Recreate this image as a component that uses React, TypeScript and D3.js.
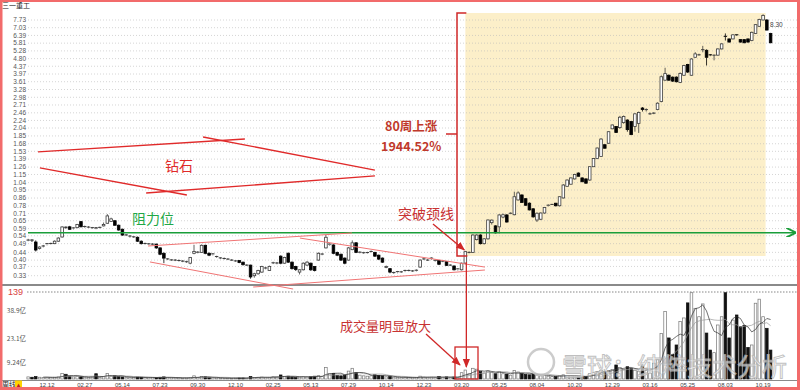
import * as d3 from 'd3';

// weekly candles: [open, close, high, low]
type Week = [number, number, number, number];

const priceTicks = [7.73, 7.03, 6.39, 5.81, 5.28, 4.8, 4.37, 3.97, 3.61, 3.28, 2.98, 2.71, 2.46, 2.24, 2.04, 1.85, 1.68, 1.53, 1.39, 1.26, 1.15, 1.04, 0.95, 0.86, 0.78, 0.71, 0.65, 0.59, 0.54, 0.49, 0.44, 0.4, 0.37, 0.33];
const volumeTicks = ['38.9', '23.1', '9.24'];
const dateLabels = ['12.12', '02.27', '05.14', '07.23', '09.30', '12.10', '02.25', '05.13', '07.29', '10.14', '12.23', '03.20', '05.25', '08.04', '10.20', '12.29', '03.16', '05.25', '08.03', '10.19'];

const base: Week[] = [
  [0.51, 0.512, 0.52, 0.505], [0.512, 0.508, 0.516, 0.5], [0.5, 0.453, 0.51, 0.445], [0.462, 0.47, 0.474, 0.456],
  [0.475, 0.476, 0.482, 0.468], [0.484, 0.49, 0.494, 0.48], [0.49, 0.491, 0.496, 0.485], [0.49, 0.505, 0.51, 0.487],
  [0.505, 0.525, 0.53, 0.5], [0.532, 0.602, 0.607, 0.528], [0.6, 0.594, 0.605, 0.588], [0.603, 0.585, 0.61, 0.58],
  [0.59, 0.595, 0.6, 0.584], [0.597, 0.62, 0.625, 0.592], [0.643, 0.603, 0.648, 0.6], [0.6, 0.605, 0.612, 0.595],
  [0.6, 0.601, 0.608, 0.594], [0.593, 0.597, 0.602, 0.588], [0.595, 0.59, 0.598, 0.586], [0.598, 0.599, 0.604, 0.592],
  [0.61, 0.62, 0.636, 0.606], [0.63, 0.69, 0.705, 0.625], [0.645, 0.665, 0.675, 0.64], [0.65, 0.615, 0.656, 0.61],
  [0.615, 0.58, 0.62, 0.575], [0.585, 0.545, 0.59, 0.54], [0.545, 0.546, 0.552, 0.538], [0.538, 0.538, 0.545, 0.528],
  [0.532, 0.533, 0.538, 0.526], [0.53, 0.505, 0.535, 0.5], [0.505, 0.49, 0.51, 0.485], [0.49, 0.491, 0.496, 0.485],
  [0.486, 0.489, 0.494, 0.482], [0.487, 0.487, 0.493, 0.481], [0.487, 0.465, 0.49, 0.46], [0.465, 0.43, 0.468, 0.425],
  [0.435, 0.41, 0.44, 0.385], [0.405, 0.406, 0.41, 0.4], [0.4, 0.401, 0.405, 0.396], [0.4, 0.4, 0.405, 0.395],
  [0.398, 0.398, 0.403, 0.393], [0.395, 0.395, 0.4, 0.39], [0.392, 0.392, 0.397, 0.387], [0.385, 0.413, 0.416, 0.38],
  [0.435, 0.445, 0.483, 0.43], [0.44, 0.441, 0.447, 0.435], [0.44, 0.48, 0.485, 0.437], [0.48, 0.435, 0.484, 0.43],
  [0.435, 0.425, 0.44, 0.42], [0.428, 0.432, 0.436, 0.424], [0.417, 0.418, 0.422, 0.412], [0.41, 0.411, 0.415, 0.405],
  [0.408, 0.408, 0.413, 0.403], [0.404, 0.405, 0.41, 0.4], [0.4, 0.4, 0.405, 0.396], [0.396, 0.396, 0.4, 0.392],
  [0.398, 0.388, 0.4, 0.385], [0.39, 0.378, 0.392, 0.374], [0.376, 0.376, 0.38, 0.372],
];

const triangle: Week[] = [
  [0.376, 0.325, 0.378, 0.318], [0.33, 0.338, 0.342, 0.322], [0.338, 0.352, 0.355, 0.334], [0.345, 0.37, 0.373, 0.342],
  [0.362, 0.363, 0.368, 0.357], [0.352, 0.37, 0.374, 0.35], [0.386, 0.387, 0.392, 0.381], [0.386, 0.386, 0.391, 0.38],
  [0.42, 0.385, 0.424, 0.38], [0.385, 0.413, 0.417, 0.382], [0.435, 0.39, 0.44, 0.386], [0.39, 0.36, 0.393, 0.356],
  [0.37, 0.356, 0.373, 0.35], [0.345, 0.355, 0.358, 0.335], [0.355, 0.385, 0.389, 0.352], [0.376, 0.39, 0.395, 0.372],
  [0.385, 0.355, 0.388, 0.35], [0.37, 0.352, 0.372, 0.348], [0.4, 0.435, 0.44, 0.397], [0.43, 0.431, 0.436, 0.425],
  [0.465, 0.53, 0.545, 0.462], [0.482, 0.487, 0.492, 0.478], [0.482, 0.435, 0.486, 0.43], [0.44, 0.425, 0.444, 0.42],
  [0.43, 0.4, 0.433, 0.396], [0.41, 0.385, 0.413, 0.38], [0.4, 0.465, 0.47, 0.397], [0.455, 0.495, 0.51, 0.452],
  [0.495, 0.44, 0.5, 0.436], [0.44, 0.441, 0.446, 0.435], [0.438, 0.438, 0.443, 0.433], [0.438, 0.439, 0.443, 0.434],
  [0.445, 0.445, 0.45, 0.44], [0.44, 0.42, 0.443, 0.416], [0.425, 0.405, 0.428, 0.4], [0.41, 0.39, 0.413, 0.386],
  [0.365, 0.37, 0.374, 0.362], [0.36, 0.345, 0.362, 0.34], [0.342, 0.343, 0.347, 0.338], [0.343, 0.347, 0.35, 0.34],
  [0.346, 0.346, 0.35, 0.342], [0.348, 0.352, 0.355, 0.345], [0.352, 0.352, 0.356, 0.348], [0.35, 0.35, 0.354, 0.346],
  [0.352, 0.353, 0.357, 0.348], [0.367, 0.4, 0.404, 0.364], [0.405, 0.406, 0.41, 0.4], [0.4, 0.4, 0.405, 0.396],
  [0.406, 0.41, 0.414, 0.402], [0.396, 0.399, 0.403, 0.393], [0.398, 0.38, 0.4, 0.376], [0.395, 0.395, 0.4, 0.39],
  [0.392, 0.375, 0.395, 0.372], [0.376, 0.376, 0.38, 0.372], [0.372, 0.355, 0.374, 0.352], [0.355, 0.359, 0.362, 0.352],
  [0.355, 0.385, 0.388, 0.352],
];

const rally: Week[] = [
  [0.385, 0.444, 0.448, 0.38], [0.44, 0.44, 0.445, 0.435], [0.44, 0.545, 0.55, 0.437], [0.515, 0.545, 0.55, 0.51],
  [0.545, 0.49, 0.55, 0.485], [0.49, 0.52, 0.525, 0.485], [0.52, 0.656, 0.66, 0.515], [0.635, 0.655, 0.66, 0.62],
  [0.61, 0.56, 0.615, 0.555], [0.603, 0.698, 0.705, 0.556], [0.68, 0.7, 0.71, 0.67], [0.698, 0.64, 0.705, 0.635],
  [0.71, 0.713, 0.72, 0.705], [0.7, 0.874, 0.93, 0.695], [0.84, 0.916, 0.935, 0.835], [0.893, 0.815, 0.9, 0.81],
  [0.853, 0.787, 0.86, 0.78], [0.807, 0.743, 0.815, 0.738], [0.753, 0.682, 0.76, 0.675], [0.656, 0.713, 0.72, 0.64],
  [0.662, 0.715, 0.72, 0.655], [0.715, 0.765, 0.77, 0.71], [0.78, 0.787, 0.795, 0.775], [0.795, 0.795, 0.8, 0.79],
  [0.807, 0.782, 0.81, 0.775], [0.782, 0.874, 0.88, 0.775], [0.861, 1.01, 1.02, 0.855], [0.994, 1.074, 1.08, 0.99],
  [1.02, 1.102, 1.11, 1.015], [1.089, 1.151, 1.16, 1.08], [1.17, 1.125, 1.18, 1.12], [1.102, 1.052, 1.11, 1.045],
  [1.089, 1.033, 1.095, 1.025], [1.074, 1.266, 1.27, 1.065], [1.266, 1.4, 1.41, 1.26], [1.4, 1.594, 1.6, 1.39],
  [1.434, 1.78, 1.8, 1.43], [1.66, 1.59, 1.67, 1.58], [1.69, 1.949, 1.96, 1.68], [2.02, 2.118, 2.13, 2.01],
  [2.08, 1.93, 2.09, 1.92], [2.05, 2.33, 2.37, 2.02], [2.18, 2.35, 2.38, 2.15], [2.25, 2.0, 2.27, 1.95],
  [2.21, 1.88, 2.22, 1.87], [2.08, 2.43, 2.45, 1.95], [2.16, 2.47, 2.5, 1.92], [2.61, 2.56, 2.64, 2.5],
  [2.55, 2.56, 2.6, 2.5], [2.43, 2.43, 2.47, 2.4], [2.45, 2.45, 2.48, 2.42], [2.56, 2.77, 2.8, 2.54],
  [2.83, 3.84, 3.9, 2.8], [3.68, 3.99, 4.29, 3.65], [3.91, 3.68, 3.95, 3.65], [3.82, 3.64, 3.85, 3.6],
  [3.82, 3.61, 3.86, 3.58], [3.58, 4.0, 4.05, 3.55], [3.91, 4.41, 4.45, 3.88], [4.47, 4.07, 4.5, 4.02],
  [3.91, 4.78, 4.82, 3.88], [4.88, 5.09, 5.2, 4.85], [5.03, 5.03, 5.1, 4.98], [5.35, 5.36, 5.62, 5.19],
  [5.32, 4.88, 5.38, 4.41], [5.03, 5.0, 5.08, 4.95], [5.01, 5.01, 5.04, 4.7], [5.01, 5.41, 5.45, 4.98],
  [5.41, 5.76, 5.8, 5.38], [6.32, 6.28, 6.55, 6.0], [6.12, 5.89, 6.15, 5.85], [6.12, 6.44, 6.48, 6.1],
  [6.44, 6.39, 6.47, 6.35], [6.07, 5.89, 6.1, 5.85], [6.07, 5.84, 6.1, 5.8], [6.12, 5.89, 6.15, 5.85],
  [6.0, 6.64, 6.7, 5.95], [6.55, 7.3, 7.35, 6.5], [7.15, 7.78, 7.85, 7.1], [7.73, 8.17, 8.3, 7.7],
  [7.73, 6.83, 7.8, 6.8], [6.55, 5.84, 6.6, 5.8],
];

// weekly volume, 亿
const volume = [
  1.2, 1.0, 1.4, 1.0, 0.9, 1.0, 0.8, 1.0, 1.2, 3.2,
  2.7, 1.6, 1.2, 1.4, 1.3, 1.0, 0.9, 1.1, 3.0, 0.9,
  1.3, 3.2, 1.6, 1.8, 1.4, 1.2, 0.9, 0.8, 0.9, 1.1,
  1.0, 0.8, 0.7, 0.8, 0.9, 1.0, 1.2, 0.8, 0.7, 0.6,
  0.6, 0.5, 0.6, 0.9, 1.8, 0.9, 1.5, 1.2, 0.8, 0.7,
  0.6, 0.5, 0.5, 0.5, 0.4, 0.5, 0.6, 0.6, 0.5, 1.4,
  0.9, 1.0, 1.1, 0.8, 1.0, 1.3, 1.2, 2.3, 1.5, 1.6,
  1.2, 1.0, 1.1, 1.3, 1.2, 1.4, 1.6, 1.9, 1.5, 6.6,
  3.0, 3.2, 2.0, 1.8, 2.2, 4.5, 6.1, 3.6, 2.2, 1.8,
  1.6, 1.8, 2.4, 2.1, 1.8, 1.2, 1.4, 1.0, 0.9, 0.8,
  0.9, 0.8, 0.7, 0.8, 1.6, 1.1, 1.0, 1.0, 0.9, 1.4,
  1.0, 1.2, 0.9, 1.1, 1.0, 3.6, 5.1, 3.0, 6.1, 5.6,
  4.2, 3.4, 4.5, 3.8, 3.0, 4.2, 3.0, 2.8, 2.2, 4.8,
  4.0, 3.2, 2.6, 2.4, 2.8, 2.2, 1.8, 2.0, 1.6, 1.3,
  1.4, 1.8, 2.4, 2.0, 1.8, 1.6, 1.2, 1.0, 1.4, 3.0,
  3.6, 4.2, 5.0, 4.2, 4.8, 5.5, 8.0, 6.5, 5.5, 7.0,
  6.0, 5.0, 4.5, 7.4, 5.0, 3.4, 9.0, 11.0, 26.0, 38.4,
  23.4, 14.0, 19.4, 32.7, 34.8, 43.4, 49.2, 40.3, 35.5, 42.8,
  26.2, 16.5, 15.0, 30.8, 35.5, 49.2, 23.4, 33.6, 36.5, 29.8,
  30.5, 18.0, 19.4, 43.2, 45.5, 35.5, 28.9, 16.5,
];

const cjk = '"Noto Sans CJK SC", sans-serif';
const small = '"Liberation Sans", Arial, sans-serif';
const red = '#d02828';

export default function App() {
  const weeks = [...base, ...triangle, ...rally];
  const x = d3.scaleLinear().domain([0, weeks.length - 1]).range([28.2, 770.6]);
  const y = d3.scaleLog().domain([0.33, 7.73]).range([275.7, 20]);
  const yv = d3.scaleLinear().domain([0, 49.6]).range([379, 292]);

  const ma = (n: number) => volume.map((_, i) => (i < n - 1 ? null : d3.mean(volume.slice(i - n + 1, i + 1)) as number));
  const maLine = d3.line<number | null>()
    .defined((d) => d != null)
    .x((_, i) => x(i))
    .y((d) => yv(d as number));

  // annotation lines in (week index, price)
  const seg = (a: [number, number], b: [number, number]) => ({ x1: x(a[0]), y1: y(a[1]), x2: x(b[0]), y2: y(b[1]) });
  const diamond = [
    seg([2.6, 1.518], [57.5, 1.781]),
    seg([3.1, 1.246], [42.1, 0.893]),
    seg([31.3, 0.915], [92, 1.129]),
    seg([46.4, 1.826], [92, 1.215]),
  ];
  const wedge = [
    seg([31.8, 0.476], [85.9, 0.559]),
    seg([72.1, 0.525], [121.2, 0.367]),
    seg([32.3, 0.391], [70.3, 0.28]),
    seg([59.7, 0.287], [121.2, 0.354]),
  ];
  const neck = y(0.561);
  const breakX = x(116);
  const peak = 195;

  return (
    <svg width={800} height={390} style={{ position: 'absolute', left: 0, top: 0, background: '#fff' }}>
      <defs>
        <marker id="ah" viewBox="0 0 10 10" refX="9" refY="5" markerWidth="7" markerHeight="7" orient="auto">
          <path d="M0,1 L10,5 L0,9 z" fill={red} />
        </marker>
        <marker id="gh" viewBox="0 0 10 10" refX="9" refY="5" markerWidth="6" markerHeight="6" orient="auto">
          <path d="M0,0 L10,5 L0,10" fill="none" stroke="#1a9e3a" strokeWidth="2" />
        </marker>
      </defs>

      <rect x={0} y={0} width={800} height={390} fill="#fff" />
      {/* rally highlight */}
      <rect x={breakX} y={13} width={x(peak) + 2.5 - breakX} height={243} fill="#fcefc9" />

      <text x={2} y={8} fontSize={7} fontFamily={cjk} fill="#222">三一重工</text>

      {/* price grid */}
      {priceTicks.map((t) => (
        <g key={t}>
          <line x1={28} x2={797} y1={y(t)} y2={y(t)} stroke="#b8b8b8" strokeWidth={0.6} strokeDasharray="1,2" />
          <text x={26} y={y(t) + 2.3} fontSize={6.5} fontFamily={small} fill="#555" textAnchor="end">{t.toFixed(2)}</text>
        </g>
      ))}

      {/* panel frame lines */}
      <line x1={2} x2={797} y1={285} y2={285} stroke="#8a8a8a" strokeWidth={2} />
      <line x1={2} x2={797} y1={380.5} y2={380.5} stroke="#8a8a8a" strokeWidth={1} />
      <text x={8} y={295} fontSize={9} fontFamily={small} fill="#d94040">139</text>
      <line x1={27} x2={797} y1={292} y2={292} stroke="#555" strokeWidth={0.7} strokeDasharray="1.5,1.5" />
      {volumeTicks.map((t) => (
        <text key={t} x={26} y={yv(+t) + 2.3} fontSize={6.5} fontFamily={cjk} fill="#555" textAnchor="end">{t}亿</text>
      ))}

      {/* volume bars */}
      {volume.map((v, i) => {
        const [o, c] = weeks[i];
        const up = c >= o;
        const top = yv(v);
        return (
          <rect key={i} x={x(i) - 1.3} y={top} width={2.6} height={Math.max(0.8, yv(0) - top)}
            fill={up ? '#fff' : '#111'} stroke={up ? '#777' : '#111'} strokeWidth={0.7} />
        );
      })}
      <path d={maLine(ma(10)) ?? ''} fill="none" stroke="#999" strokeWidth={0.7} />
      <path d={maLine(ma(5)) ?? ''} fill="none" stroke="#333" strokeWidth={0.7} />

      {/* watermark over the volume bars */}
      <g opacity={0.85}>
        <circle cx={541} cy={362} r={13} fill="rgba(255,255,255,0.6)" stroke="#c4c4c4" strokeWidth={2.5} />
        <text x={562} y={376} fontSize={25} fontFamily={cjk} fill="rgba(255,255,255,0.75)" stroke="#b5b5b5" strokeWidth={0.9}>雪球：纯粹技术分析</text>
      </g>

      {/* date axis */}
      {dateLabels.map((d, k) => (
        <text key={k} x={x(5 + k * 10)} y={387} fontSize={6} fontFamily={small} fill="#444" textAnchor="middle">{d}</text>
      ))}
      <text x={2} y={387} fontSize={7} fontFamily={cjk} fill="#222">周线</text>
      <rect x={15} y={380.5} width={7} height={7} fill="#ffd400" />
      <text x={18.5} y={386.5} fontSize={6} fontFamily={small} fill="#c02020" textAnchor="middle">▲</text>

      {/* candles */}
      {weeks.map(([o, c, h, l], i) => {
        const cx = x(i);
        const up = c >= o;
        const yt = y(Math.max(o, c));
        const yb = y(Math.min(o, c));
        const col = up ? '#3a3a3a' : '#000';
        return (
          <g key={i}>
            <line x1={cx} x2={cx} y1={y(h)} y2={yt} stroke={col} strokeWidth={0.8} />
            <line x1={cx} x2={cx} y1={yb} y2={y(l)} stroke={col} strokeWidth={0.8} />
            {yb - yt < 1 ? (
              <line x1={cx - 1.7} x2={cx + 1.7} y1={yt} y2={yt} stroke={col} strokeWidth={1} />
            ) : (
              <rect x={cx - 1.3} y={yt} width={2.6} height={yb - yt} fill={up ? '#fff' : '#000'} stroke={col} strokeWidth={0.8} />
            )}
          </g>
        );
      })}
      <text x={x(peak) + 7} y={27} fontSize={6.5} fontFamily={small} fill="#444">8.30</text>

      {/* resistance */}
      <line x1={28} x2={795} y1={neck} y2={neck} stroke="#1a9e3a" strokeWidth={1.6} markerEnd="url(#gh)" />
      <text x={132} y={224} fontSize={14} fontFamily={cjk} fill="#1fa847">阻力位</text>

      {/* diamond */}
      {diamond.map((s, i) => <line key={i} {...s} stroke="#e02a2a" strokeWidth={1.3} />)}
      <text x={165} y={171} fontSize={14} fontFamily={cjk} fill="#e02a2a">钻石</text>

      {/* triangle */}
      {wedge.map((s, i) => <line key={i} {...s} stroke="#f07474" strokeWidth={1} />)}

      {/* breakout */}
      <text x={398} y={219} fontSize={14} fontFamily={cjk} fill="#c83232">突破颈线</text>
      <line x1={433} y1={224} x2={breakX - 1} y2={250} stroke={red} strokeWidth={1.3} markerEnd="url(#ah)" />
      <path d={`M${breakX + 1},13 H457 V256 H${breakX + 2}`} fill="none" stroke={red} strokeWidth={1.5} />
      <line x1={446} x2={457} y1={134} y2={134} stroke={red} strokeWidth={1.5} />
      <text x={385} y={131} fontSize={12.5} fontWeight="bold" fontFamily={cjk} fill="#c0392b">80周上涨</text>
      <text x={381} y={151} fontSize={12.5} fontWeight="bold" fontFamily={cjk} fill="#c0392b">1944.52%</text>

      {/* volume expansion */}
      <line x1={breakX + 1} x2={breakX + 1} y1={262} y2={367} stroke={red} strokeWidth={1.3} markerEnd="url(#ah)" />
      <rect x={455} y={347} width={23} height={32} fill="none" stroke={red} strokeWidth={1.3} />
      <line x1={426} y1={334} x2={460} y2={365} stroke={red} strokeWidth={1.3} markerEnd="url(#ah)" />
      <text x={340} y={331} fontSize={13} fontFamily={cjk} fill="#c83232">成交量明显放大</text>

      {/* screenshot frame */}
      <rect x={1} y={0.5} width={797.5} height={388} fill="none" stroke="#f26b6b" strokeWidth={3} />
    </svg>
  );
}
